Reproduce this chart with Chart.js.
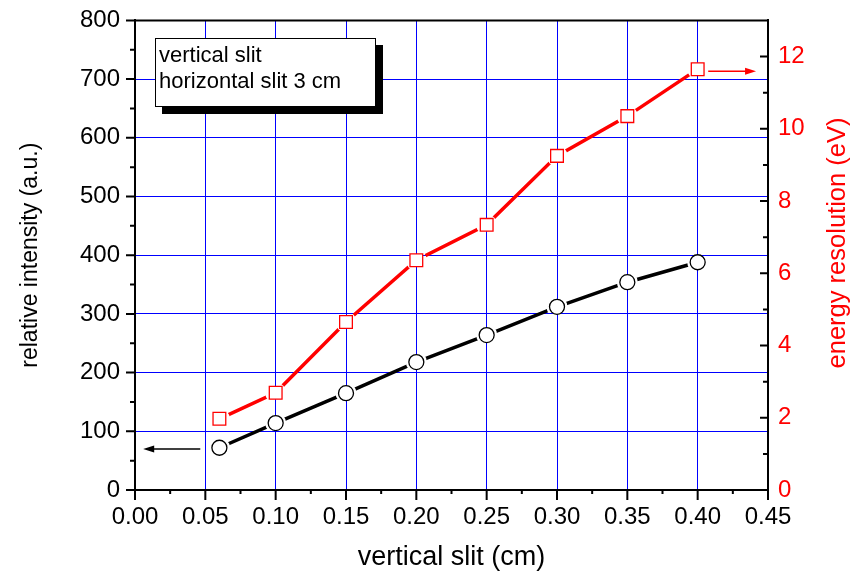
<!DOCTYPE html>
<html lang="en">

<head>
    <meta charset="UTF-8">
    <title>vertical slit</title>
    <script src="https://cdn.jsdelivr.net/npm/chart.js"></script>
    <style>
        body { margin: 0; background: #fff; }
    </style>
</head>

<body>
    <canvas id="myChart" width="859" height="574"></canvas>

    <script>
        // data
        const slitWidth = [0.06, 0.10, 0.15, 0.20, 0.25, 0.30, 0.35, 0.40];
        const relIntensity = [72, 114, 165, 218, 264, 312, 354, 388];
        const energyRes = [1.97, 2.69, 4.65, 6.36, 7.34, 9.25, 10.35, 11.65];

        const noteLines = ['vertical slit', 'horizontal slit 3 cm'];
        // arrows pointing at the axis each series belongs to (data coords)
        const intensityArrow = { x0: 0.0464, x1: 0.0058, y: 70 };
        const resolutionArrow = { x0: 0.4075, x1: 0.4415, y: 11.59 };

        const FONT = "'Liberation Sans', Arial, sans-serif";
        const BLUE = '#0000ff';

        function pts(xs, ys) {
            return xs.map(function (x, i) { return { x: x, y: ys[i] }; });
        }

        function arrow(ctx, x0, y0, x1, y1, color) {
            const ang = Math.atan2(y1 - y0, x1 - x0);
            ctx.strokeStyle = color;
            ctx.fillStyle = color;
            ctx.lineWidth = 1.5;
            ctx.beginPath();
            ctx.moveTo(x0, y0);
            ctx.lineTo(x1 - 8 * Math.cos(ang), y1 - 8 * Math.sin(ang));
            ctx.stroke();
            ctx.beginPath();
            ctx.moveTo(x1, y1);
            ctx.lineTo(x1 - 11 * Math.cos(ang) + 3.5 * Math.sin(ang), y1 - 11 * Math.sin(ang) - 3.5 * Math.cos(ang));
            ctx.lineTo(x1 - 11 * Math.cos(ang) - 3.5 * Math.sin(ang), y1 - 11 * Math.sin(ang) + 3.5 * Math.cos(ang));
            ctx.closePath();
            ctx.fill();
        }

        // leave a small gap in the connecting lines around each marker
        const gapPlugin = {
            id: 'gaps',
            beforeDatasetDraw(chart, args) {
                const ds = chart.data.datasets[args.index];
                if (!ds.gapRadius) return;
                const ctx = chart.ctx;
                const markers = chart.getDatasetMeta(ds.gapFor).data;
                ctx.save();
                ctx.beginPath();
                ctx.rect(0, 0, chart.width, chart.height);
                markers.forEach(function (p) {
                    ctx.moveTo(p.x + ds.gapRadius, p.y);
                    ctx.arc(p.x, p.y, ds.gapRadius, 0, Math.PI * 2);
                });
                ctx.clip('evenodd');
            },
            afterDatasetDraw(chart, args) {
                const ds = chart.data.datasets[args.index];
                if (ds.gapRadius) chart.ctx.restore();
            }
        };

        const framePlugin = {
            id: 'frame',
            afterDraw(chart) {
                const ctx = chart.ctx;
                const a = chart.chartArea;
                const x = chart.scales.x, y = chart.scales.y, y1 = chart.scales.y1;
                ctx.save();

                // top border
                ctx.strokeStyle = '#000';
                ctx.lineWidth = 2;
                ctx.beginPath();
                ctx.moveTo(a.left, a.top);
                ctx.lineTo(a.right, a.top);
                ctx.stroke();

                // ticks, major + minor
                ctx.lineWidth = 2;
                ctx.beginPath();
                for (let i = 0; i <= 18; i++) {
                    const px = x.getPixelForValue(i * 0.025);
                    const len = i % 2 === 0 ? 10 : 4;
                    ctx.moveTo(px, a.bottom);
                    ctx.lineTo(px, a.bottom + len);
                }
                for (let i = 0; i <= 16; i++) {
                    const py = y.getPixelForValue(i * 50);
                    const len = i % 2 === 0 ? 9 : 5;
                    ctx.moveTo(a.left - len, py);
                    ctx.lineTo(a.left, py);
                }
                for (let i = 0; i <= 12; i++) {
                    const py = y1.getPixelForValue(i);
                    const len = i % 2 === 0 ? 8 : 5;
                    ctx.moveTo(a.right - len, py);
                    ctx.lineTo(a.right, py);
                }
                ctx.stroke();

                // note box with drop shadow
                ctx.fillStyle = '#000';
                ctx.fillRect(162, 45, 221, 69);
                ctx.fillStyle = '#fff';
                ctx.fillRect(155, 38, 221, 69);
                ctx.lineWidth = 1;
                ctx.strokeStyle = '#000';
                ctx.strokeRect(155.5, 38.5, 220, 68);
                ctx.fillStyle = '#000';
                ctx.font = '22px ' + FONT;
                ctx.textAlign = 'left';
                ctx.textBaseline = 'alphabetic';
                ctx.fillText(noteLines[0], 159, 62);
                ctx.fillText(noteLines[1], 159, 88);

                // arrows
                arrow(ctx, x.getPixelForValue(intensityArrow.x0), y.getPixelForValue(intensityArrow.y),
                    x.getPixelForValue(intensityArrow.x1), y.getPixelForValue(intensityArrow.y), '#000');
                arrow(ctx, x.getPixelForValue(resolutionArrow.x0), y1.getPixelForValue(resolutionArrow.y),
                    x.getPixelForValue(resolutionArrow.x1), y1.getPixelForValue(resolutionArrow.y), '#ff0000');

                // right axis title reads bottom to top
                ctx.translate(838, 243);
                ctx.rotate(-Math.PI / 2);
                ctx.fillStyle = '#ff0000';
                ctx.font = '25.5px ' + FONT;
                ctx.textAlign = 'center';
                ctx.textBaseline = 'middle';
                ctx.fillText('energy resolution (eV)', 0, 0);
                ctx.restore();
            }
        };

        const config = {
            type: 'line',
            data: {
                datasets: [
                    {
                        data: pts(slitWidth, relIntensity),
                        yAxisID: 'y',
                        borderColor: '#000',
                        borderWidth: 3.5,
                        pointRadius: 0,
                        tension: 0,
                        gapRadius: 10.5,
                        gapFor: 2,
                        order: 5
                    },
                    {
                        data: pts(slitWidth, energyRes),
                        yAxisID: 'y1',
                        borderColor: '#ff0000',
                        borderWidth: 3.5,
                        pointRadius: 0,
                        tension: 0,
                        gapRadius: 10.5,
                        gapFor: 3,
                        order: 4
                    },
                    {
                        data: pts(slitWidth, relIntensity),
                        yAxisID: 'y',
                        showLine: false,
                        pointStyle: 'circle',
                        pointRadius: 7.5,
                        pointBackgroundColor: '#fff',
                        pointBorderColor: '#000',
                        pointBorderWidth: 1.3,
                        order: 2
                    },
                    {
                        data: pts(slitWidth, energyRes),
                        yAxisID: 'y1',
                        showLine: false,
                        pointStyle: 'rect',
                        pointRadius: 9,
                        pointBackgroundColor: '#fff',
                        pointBorderColor: '#ff0000',
                        pointBorderWidth: 1.3,
                        order: 1
                    }
                ]
            },
            options: {
                responsive: false,
                animation: false,
                events: [],
                layout: { padding: { top: 19, left: 0, right: 0, bottom: 0 } },
                plugins: {
                    legend: { display: false },
                    tooltip: { enabled: false }
                },
                scales: {
                    x: {
                        type: 'linear',
                        min: 0,
                        max: 0.45,
                        afterFit: function (s) { s.height = 84; },
                        border: { color: '#000', width: 2 },
                        grid: {
                            color: function (c) {
                                return (c.tick && c.tick.value > 0.001 && c.tick.value < 0.449) ? BLUE : 'rgba(0,0,0,0)';
                            },
                            lineWidth: 1,
                            tickLength: 10,
                            tickColor: 'rgba(0,0,0,0)'
                        },
                        ticks: {
                            stepSize: 0.05,
                            padding: 3,
                            color: '#000',
                            maxRotation: 0,
                            font: { family: FONT, size: 24 },
                            callback: function (v) { return v.toFixed(2); }
                        },
                        title: {
                            display: true,
                            text: 'vertical slit (cm)',
                            color: '#000',
                            padding: { top: 0, bottom: 0 },
                            font: { family: FONT, size: 27 }
                        }
                    },
                    y: {
                        position: 'left',
                        min: 0,
                        max: 800,
                        afterFit: function (s) { s.width = 135; },
                        border: { color: '#000', width: 2 },
                        grid: {
                            color: function (c) {
                                return (c.tick && c.tick.value > 0 && c.tick.value < 800) ? BLUE : 'rgba(0,0,0,0)';
                            },
                            lineWidth: 1,
                            tickLength: 9,
                            tickColor: 'rgba(0,0,0,0)'
                        },
                        ticks: {
                            stepSize: 100,
                            padding: 6,
                            color: '#000',
                            font: { family: FONT, size: 24 }
                        },
                        title: {
                            display: true,
                            text: 'relative intensity (a.u.)',
                            color: '#000',
                            padding: { top: 17, bottom: 0 },
                            font: { family: FONT, size: 23 }
                        }
                    },
                    y1: {
                        position: 'right',
                        min: 0,
                        max: 13,
                        afterFit: function (s) { s.width = 91; },
                        border: { color: '#000', width: 2 },
                        grid: {
                            drawOnChartArea: false,
                            tickLength: 4,
                            tickColor: 'rgba(0,0,0,0)'
                        },
                        ticks: {
                            stepSize: 2,
                            includeBounds: false,
                            padding: 6,
                            color: '#ff0000',
                            font: { family: FONT, size: 24 }
                        }
                    }
                }
            },
            plugins: [gapPlugin, framePlugin]
        };

        const myChart = new Chart(document.getElementById('myChart'), config);
    </script>
</body>

</html>
